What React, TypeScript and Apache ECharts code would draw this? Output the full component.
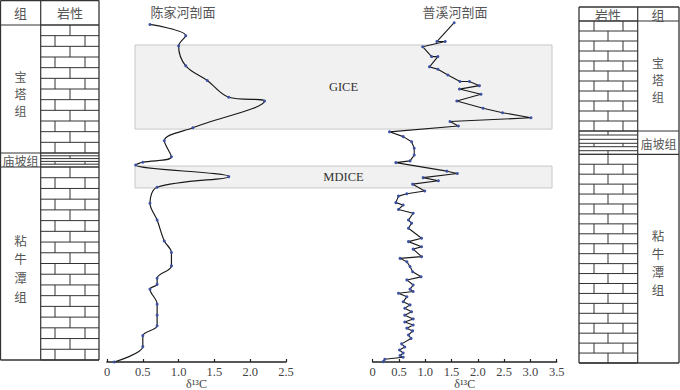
import React, { useEffect, useRef } from "react";
import * as echarts from "echarts";

// 陈家河剖面：δ13C (‰) 与地层高度
const chenjiaheD13C = [0.6, 1.1, 1.0, 1.1, 1.4, 1.7, 2.2, 1.2, 0.8, 0.9, 0.5, 0.4, 1.7, 0.7, 0.6, 0.7, 0.8, 0.9, 0.9, 0.7, 0.7, 0.6, 0.7, 0.7, 0.7, 0.5, 0.5, 0.1];
const chenjiaheHeight = [98.7, 95.4, 92.4, 86.6, 82.3, 77.4, 76.3, 68.5, 64.7, 60.0, 58.4, 57.6, 54.2, 51.1, 46.4, 41.5, 35.4, 32.0, 28.1, 24.5, 22.7, 21.3, 16.9, 13.7, 10.6, 7.7, 4.5, 0];

// 普溪河剖面：δ13C (‰) 与地层高度
const puxiheD13C = [
  1.55, 1.22, 1.38, 0.95, 1.12, 1.24, 1.08, 1.24, 1.43, 1.66, 1.84, 2.03, 1.65, 2.06, 1.6, 2.1, 2.47, 3.01, 1.47, 1.63,
  0.32, 0.58, 0.74, 0.79, 0.79, 0.71, 0.44, 1.41, 1.61, 0.96, 1.25, 0.76, 0.99, 0.65,
  0.49, 0.44, 0.58, 0.49, 0.77, 0.68, 0.74, 0.68, 0.93, 0.68, 0.93, 0.77, 0.93, 0.52, 0.65, 0.71, 0.76, 0.92, 0.65, 0.77,
  0.71, 0.77, 0.49, 0.65, 0.58, 0.71, 0.61, 0.74, 0.61, 0.77, 0.61, 0.77, 0.65, 0.76, 0.68, 0.73, 0.55, 0.61, 0.51, 0.58,
  0.52, 0.58, 0.23, 0.2,
];
const puxiheHeight = [
  99.2, 93.7, 93.7, 92.2, 89.3, 89.3, 86.3, 85.6, 83.9, 82.0, 82.0, 80.8, 79.8, 78.3, 76.3, 74.2, 72.9, 71.4, 70.3, 69.0,
  67.3, 65.9, 64.4, 62.5, 60.5, 58.8, 58.3, 55.8, 55.1, 53.9, 53.0, 52.0, 50.0, 49.2,
  48.5, 46.6, 45.9, 44.6, 43.5, 41.5, 40.6, 39.1, 36.2, 35.2, 33.7, 33.0, 30.8, 30.3, 29.3, 27.9, 26.4, 24.9, 24.0, 22.5,
  21.3, 20.6, 20.1, 19.1, 17.6, 16.7, 15.7, 14.7, 13.7, 12.6, 11.7, 10.8, 9.9, 9.1, 7.9, 6.9, 5.3, 4.4, 3.5, 2.6,
  1.9, 1.4, 0.8, 0.1,
];

// 碳同位素漂移事件层位
const eventNames = ["GICE", "MDICE"];
const eventBase = [68.1, 50.9];
const eventTop = [92.7, 57.3];

const sectionTitles = ["陈家河剖面", "普溪河剖面"];
const formationNames = ["宝塔组", "庙坡组", "粘牛潭组"];
const headerGroup = "组";
const headerLitho = "岩性";
const axisTitle = "δ¹³C";

const INK = "#333";
const TEXT = "#555";
const CJK = "'Noto Sans CJK SC', sans-serif";
const SERIF = "'Liberation Serif', 'DejaVu Serif', serif";

type El = Record<string, unknown>;

function seg(out: El[], x1: number, y1: number, x2: number, y2: number, w = 1) {
  out.push({ type: "line", silent: true, shape: { x1, y1, x2, y2 }, style: { stroke: INK, lineWidth: w } });
}

function bricks(out: El[], x0: number, x1: number, y0: number, y1: number, rows: number, joints: number[][]) {
  const h = (y1 - y0) / rows;
  for (let i = 0; i <= rows; i++) seg(out, x0, y0 + i * h, x1, y0 + i * h);
  for (let i = 0; i < rows; i++) {
    for (const jx of joints[i % 2]) seg(out, jx, y0 + i * h, jx, y0 + (i + 1) * h);
  }
}

function label(out: El[], text: string, x: number, y: number, size: number) {
  out.push({
    type: "text",
    silent: true,
    x,
    y,
    style: {
      text,
      fill: TEXT,
      font: `${size}px ${CJK}`,
      align: "center",
      verticalAlign: "middle",
    },
  });
}

// 竖排文字：每个字单独放置
function verticalLabel(out: El[], text: string, x: number, yFirst: number, step: number, size: number) {
  text.split("").forEach((ch, i) => label(out, ch, x, yFirst + i * step, size));
}

function columnDecor(): El[] {
  const out: El[] = [];
  // 左侧柱状图
  seg(out, 0.5, 0.5, 99, 0.5, 1.3);
  seg(out, 0.5, 360, 99, 360, 1.3);
  seg(out, 0.5, 0.5, 0.5, 360, 1.3);
  seg(out, 99, 0.5, 99, 360, 1.3);
  seg(out, 40.7, 0.5, 40.7, 360, 1.2);
  seg(out, 0.5, 25, 99, 25, 1.2);
  seg(out, 0.5, 153, 40.7, 153, 1.2);
  seg(out, 0.5, 167, 40.7, 167, 1.2);
  bricks(out, 40.7, 99, 25, 153, 12, [[70], [55, 85]]);
  for (const y of [153, 155.8, 158.6, 161.4, 164.2, 167]) seg(out, 40.7, y, 99, y);
  seg(out, 70, 155.8, 70, 158.6);
  seg(out, 55, 161.4, 55, 164.2);
  seg(out, 85, 161.4, 85, 164.2);
  bricks(out, 40.7, 99, 167, 360, 18, [[70], [55, 85]]);
  label(out, headerGroup, 20.5, 12.5, 13);
  label(out, headerLitho, 70, 12.5, 13);
  verticalLabel(out, formationNames[0], 20.5, 76.5, 17.2, 12);
  label(out, formationNames[1], 20.5, 160, 12);
  verticalLabel(out, formationNames[2], 20.5, 240, 18.7, 12.5);

  // 右侧柱状图
  seg(out, 579, 7, 679, 7, 1.3);
  seg(out, 579, 363, 679, 363, 1.3);
  seg(out, 579, 7, 579, 363, 1.3);
  seg(out, 679, 7, 679, 363, 1.3);
  seg(out, 637.7, 7, 637.7, 363, 1.2);
  seg(out, 579, 21, 679, 21, 1.2);
  seg(out, 637.7, 131, 679, 131, 1.2);
  seg(out, 637.7, 154.3, 679, 154.3, 1.2);
  bricks(out, 579, 637.7, 21, 131, 11, [[594, 623], [608]]);
  for (const y of [131, 135, 139.3, 143.3, 146.7, 150.7, 154.3]) seg(out, 579, y, 637.7, y);
  seg(out, 608, 131, 608, 135);
  seg(out, 594, 143.3, 594, 146.7);
  seg(out, 623, 143.3, 623, 146.7);
  seg(out, 608, 150.7, 608, 154.3);
  bricks(out, 579, 637.7, 154.3, 363, 21, [[608], [594, 623]]);
  label(out, headerLitho, 608, 14, 13);
  label(out, headerGroup, 658, 14, 13);
  verticalLabel(out, formationNames[0], 658, 62.5, 17.2, 12);
  label(out, formationNames[1], 658.5, 143, 12);
  verticalLabel(out, formationNames[2], 658, 235, 18.3, 12.5);

  // 剖面名称
  label(out, sectionTitles[0], 183, 11, 13);
  label(out, sectionTitles[1], 455, 11, 13);
  return out;
}

function valueAxis(gridIndex: number, max: number) {
  return {
    type: "value" as const,
    gridIndex,
    min: 0,
    max,
    interval: 0.5,
    splitLine: { show: false },
    axisLine: { show: true, onZero: false, lineStyle: { color: "#222", width: 1.5 } },
    axisTick: { show: true, inside: true, length: 3, lineStyle: { color: "#222", width: 1.2 } },
    axisLabel: {
      color: "#444",
      fontFamily: SERIF,
      fontSize: 12.5,
      lineHeight: 12,
      margin: 4,
      formatter: (v: number) => (v === 0 ? "0" : v.toFixed(1)),
    },
    name: axisTitle,
    nameLocation: "middle" as const,
    nameGap: 16,
    nameMoveOverlap: false,
    nameTextStyle: {
      fontFamily: SERIF,
      fontSize: 12,
      color: "#444",
      lineHeight: 11,
      verticalAlign: "top",
    },
  };
}

function hiddenY(gridIndex: number) {
  return { type: "value" as const, gridIndex, min: 0, max: 100, show: false };
}

export default function App() {
  const ref = useRef<HTMLDivElement>(null);

  useEffect(() => {
    if (!ref.current) return;
    const chart = echarts.init(ref.current, undefined, { renderer: "svg" });

    const chenjiahe = chenjiaheD13C.map((d, i) => [d, chenjiaheHeight[i]]);
    const puxihe = puxiheD13C.map((d, i) => [d, puxiheHeight[i]]);

    chart.setOption({
      animation: false,
      backgroundColor: "#fff",
      grid: [
        { left: 135, width: 417, top: 20, height: 342, outerBoundsMode: "none", containLabel: false },
        { left: 107, width: 179, top: 20, height: 342, outerBoundsMode: "none", containLabel: false },
        { left: 372.7, width: 184, top: 20, height: 342, outerBoundsMode: "none", containLabel: false },
      ],
      xAxis: [
        { type: "value", gridIndex: 0, min: 0, max: 1, show: false },
        valueAxis(1, 2.5),
        valueAxis(2, 3.5),
      ],
      yAxis: [hiddenY(0), hiddenY(1), hiddenY(2)],
      graphic: columnDecor(),
      series: [
        {
          type: "line",
          xAxisIndex: 0,
          yAxisIndex: 0,
          data: [],
          z: 1,
          silent: true,
          markArea: {
            silent: true,
            itemStyle: { color: "#f1f1f1", borderColor: "#c8c8c8", borderWidth: 1 },
            label: { show: true, position: "inside", color: "#333", fontFamily: SERIF, fontSize: 12.5 },
            data: eventNames.map((name, i) => [
              { name, yAxis: eventBase[i] },
              { yAxis: eventTop[i] },
            ]),
          },
        },
        {
          type: "line",
          name: sectionTitles[0],
          xAxisIndex: 1,
          yAxisIndex: 1,
          data: chenjiahe,
          smooth: 0.35,
          z: 3,
          symbol: "circle",
          symbolSize: 3,
          itemStyle: { color: "#3e51a3" },
          lineStyle: { color: "#1a1a1a", width: 1.2 },
        },
        {
          type: "line",
          name: sectionTitles[1],
          xAxisIndex: 2,
          yAxisIndex: 2,
          data: puxihe,
          z: 3,
          symbol: "circle",
          symbolSize: 3,
          itemStyle: { color: "#3e51a3" },
          lineStyle: { color: "#1a1a1a", width: 1.1 },
        },
      ],
    });

    return () => chart.dispose();
  }, []);

  return <div ref={ref} style={{ width: 680, height: 390, position: "absolute", left: 0, top: 0 }} />;
}
